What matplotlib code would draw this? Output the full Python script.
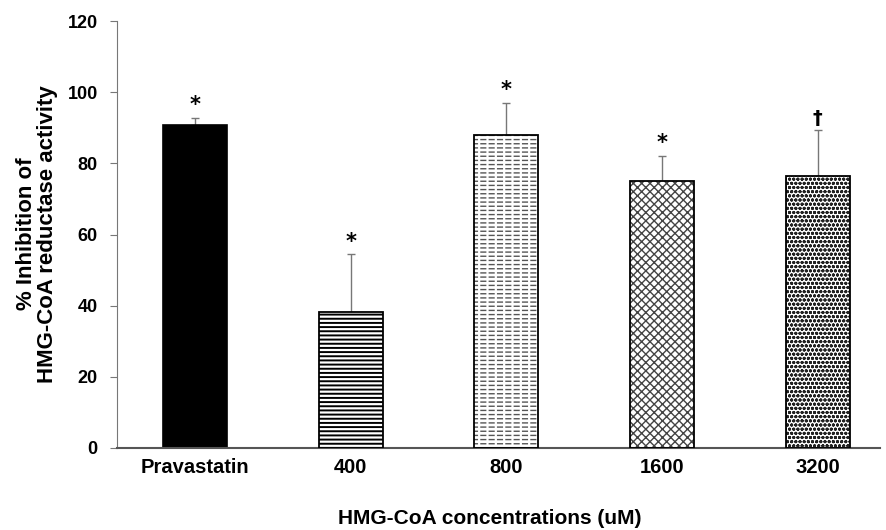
import matplotlib
matplotlib.use("Agg")
import matplotlib.pyplot as plt
import numpy as np

# HMG-CoA reductase inhibition by concentration
labels = ["Pravastatin", "400", "800", "1600", "3200"]
means = [90.9, 38.1, 87.9, 75.1, 76.6]
errs = [2.0, 16.3, 9.1, 7.0, 12.7]
marks = ["*", "*", "*", "*", "\u2020"]
hatches = [None, "----", "----", "xxxx", "oooo"]
hatch_cols = ["black", "black", "#555555", "#444444", "#222222"]

plt.rcParams["font.family"] = ["Liberation Sans", "DejaVu Sans"]
plt.rcParams["font.weight"] = "bold"


def hatch_lw(bars, lw):
    for p in bars:
        if hasattr(p, "set_hatch_linewidth"):
            p.set_hatch_linewidth(lw)


fig = plt.figure(figsize=(8.87, 5.30), dpi=100)
ax = fig.add_axes([0.132, 0.155, 0.860, 0.805])

x = np.arange(len(labels))
w = 0.41
for i in range(len(labels)):
    if hatches[i] is None:
        ax.bar(x[i], means[i], w, color="black", edgecolor="black", linewidth=1.2, zorder=2)
        continue
    b = ax.bar(x[i], means[i], w, color="white", edgecolor=hatch_cols[i],
               hatch=hatches[i], linewidth=0, zorder=2)
    hatch_lw(b, 1.4 if i == 1 else 1.0)
    if labels[i] == "800":
        # break the lines into short dashes
        b2 = ax.bar(x[i], means[i], w, fill=False, edgecolor="white", hatch="||",
                    linewidth=0, zorder=2.5)
        hatch_lw(b2, 1.6)
    ax.bar(x[i], means[i], w, fill=False, edgecolor="black", linewidth=1.3, zorder=3)

ax.errorbar(x, means, yerr=[np.zeros(len(errs)), errs], fmt="none", ecolor="#777777",
            elinewidth=1.0, capsize=3, capthick=1.0, zorder=1)

for i in range(len(labels)):
    ax.annotate(marks[i], (x[i], means[i] + errs[i]), xytext=(0, 2),
                textcoords="offset points", ha="center", va="bottom",
                fontsize=15 if marks[i] == "*" else 14, fontweight="bold",
                family=["DejaVu Sans"])

ax.set_ylim(0, 120)
ax.set_xlim(-0.5, 4.4)
ax.set_yticks(np.arange(0, 121, 20))
ax.set_xticks(x)
ax.set_xticklabels(labels)
ax.tick_params(axis="x", length=0, pad=7, labelsize=14.5)
ax.tick_params(axis="y", length=5, direction="out", color="#777777", pad=9, labelsize=13)
for s in ["top", "right"]:
    ax.spines[s].set_visible(False)
ax.spines["left"].set_color("#777777")
ax.spines["bottom"].set_color("#555555")
ax.spines["bottom"].set_linewidth(1.5)

fig.text(37 / 887, 1 - 234 / 530, "% Inhibition of\nHMG-CoA reductase activity",
         rotation=90, ha="center", va="center", multialignment="center",
         fontsize=16, fontweight="bold", linespacing=0.95)
fig.text(489.5 / 887, 1 - 519 / 530, "HMG-CoA concentrations (uM)",
         ha="center", va="center", fontsize=15, fontweight="bold")

fig.savefig("out.png", dpi=100)
